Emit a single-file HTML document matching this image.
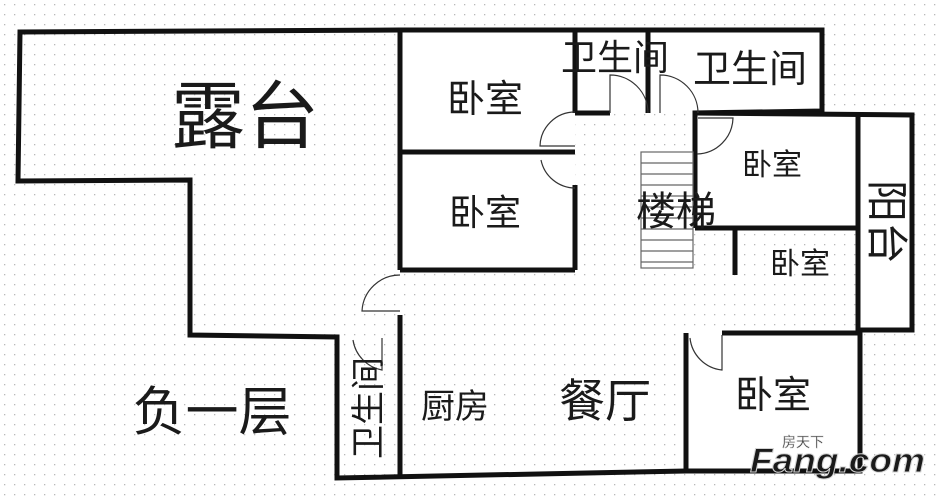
<!DOCTYPE html>
<html><head><meta charset="utf-8"><style>
html,body{margin:0;padding:0;background:#fff;}
svg{display:block;}
text{font-family:"Liberation Sans","Noto Sans CJK SC",sans-serif;fill:#1a1a1a;}
</style></head><body>
<svg width="941" height="498" viewBox="0 0 941 498" xmlns="http://www.w3.org/2000/svg">
<defs>
<pattern id="d" x="4" y="4" width="10" height="10" patternUnits="userSpaceOnUse">
<rect x="0" y="0" width="1.3" height="1.3" fill="#b8b8b8"/>
</pattern>
</defs>
<rect width="941" height="498" fill="#fff"/>
<rect width="941" height="498" fill="url(#d)"/>
<g fill="#fff">
<rect x="400" y="30" width="175" height="240"/>
<rect x="575" y="30" width="247" height="83"/>
<rect x="695" y="115" width="163" height="113"/>
<rect x="858" y="115" width="54" height="215"/>
<rect x="735" y="228" width="123" height="5"/>
<rect x="686" y="333" width="174" height="138"/>
</g>
<g fill="none" stroke="#111" stroke-width="5" stroke-linejoin="miter">
<polyline points="400,30 20,32 18,181 190,180 190,335 337,337 337,478 686,471"/>
<polyline points="400,30 822,30 822,111 695,113 695,150"/>
<line x1="648" y1="30" x2="648" y2="113"/>
<line x1="575" y1="30" x2="575" y2="113"/>
<line x1="575" y1="113" x2="610" y2="113"/>
<line x1="400" y1="30" x2="400" y2="270"/>
<line x1="400" y1="152" x2="575" y2="152"/>
<line x1="575" y1="185" x2="575" y2="270"/>
<line x1="400" y1="270" x2="575" y2="270"/>
<line x1="400" y1="315" x2="400" y2="475"/>
<polyline points="695,113 912,115 912,330 860,330"/>
<line x1="858" y1="115" x2="858" y2="333"/>
<line x1="695" y1="150" x2="695" y2="228"/>
<line x1="695" y1="228" x2="858" y2="228"/>
<line x1="735" y1="228" x2="735" y2="275"/>
<polyline points="722,333 860,333 860,471 686,471 686,333"/>
</g>
<g fill="none" stroke="#333" stroke-width="1.2">
<path d="M610,113 L610,75 A38,38 0 0 1 648,113"/>
<path d="M660,113 L660,75 A38,38 0 0 1 698,113"/>
<path d="M575,146 L540,146 A35,35 0 0 1 575,112"/>
<path d="M575,188 A35,35 0 0 1 541,160"/>
<path d="M698,118 L733,118 A37,37 0 0 1 697,154"/>
<path d="M400,275 A38,38 0 0 0 362,311 L400,311"/>
<path d="M382,338 L382,370 A36,36 0 0 1 353,340"/>
<path d="M722,335 L722,370 A36,36 0 0 1 690,338"/>
</g>
<g stroke="#666" stroke-width="1.2" fill="#fff">
<rect x="641" y="152" width="52" height="116"/>
<path d="M641,163H693M641,174H693M641,185H693M641,196H693M641,207H693M641,218H693M641,229H693M641,240H693M641,251H693M641,262H693" fill="none"/>
</g>
<text x="245" y="142" font-size="74" text-anchor="middle">露台</text>
<text x="212" y="430" font-size="53" text-anchor="middle">负一层</text>
<text x="485" y="112" font-size="38" text-anchor="middle">卧室</text>
<text x="485" y="225" font-size="36" text-anchor="middle" fill="#333">卧室</text>
<text x="615" y="70" font-size="36" text-anchor="middle">卫生间</text>
<text x="750" y="82" font-size="38" text-anchor="middle">卫生间</text>
<text x="676" y="225" font-size="40" text-anchor="middle">楼梯</text>
<text x="772" y="175" font-size="30" text-anchor="middle">卧室</text>
<text x="800" y="274" font-size="30" text-anchor="middle">卧室</text>
<text x="773" y="408" font-size="38" text-anchor="middle">卧室</text>
<text x="455" y="418" font-size="34" text-anchor="middle">厨房</text>
<text x="605" y="417" font-size="46" text-anchor="middle">餐厅</text>
<text transform="translate(886,222) rotate(90)" x="0" y="14" font-size="42" text-anchor="middle">阳台</text>
<text transform="translate(368,408) rotate(-90)" x="0" y="12" font-size="34" text-anchor="middle">卫生间</text>
<text x="750" y="472" font-size="34" font-style="italic" font-weight="bold" fill="#ececec" stroke="#d4d4d4" stroke-width="1" textLength="175" lengthAdjust="spacingAndGlyphs">Fang.com</text>
<text x="782" y="447" font-size="14" fill="#e4e4e4" stroke="#d0d0d0" stroke-width="0.5">房天下</text>
</svg>
</body></html>
